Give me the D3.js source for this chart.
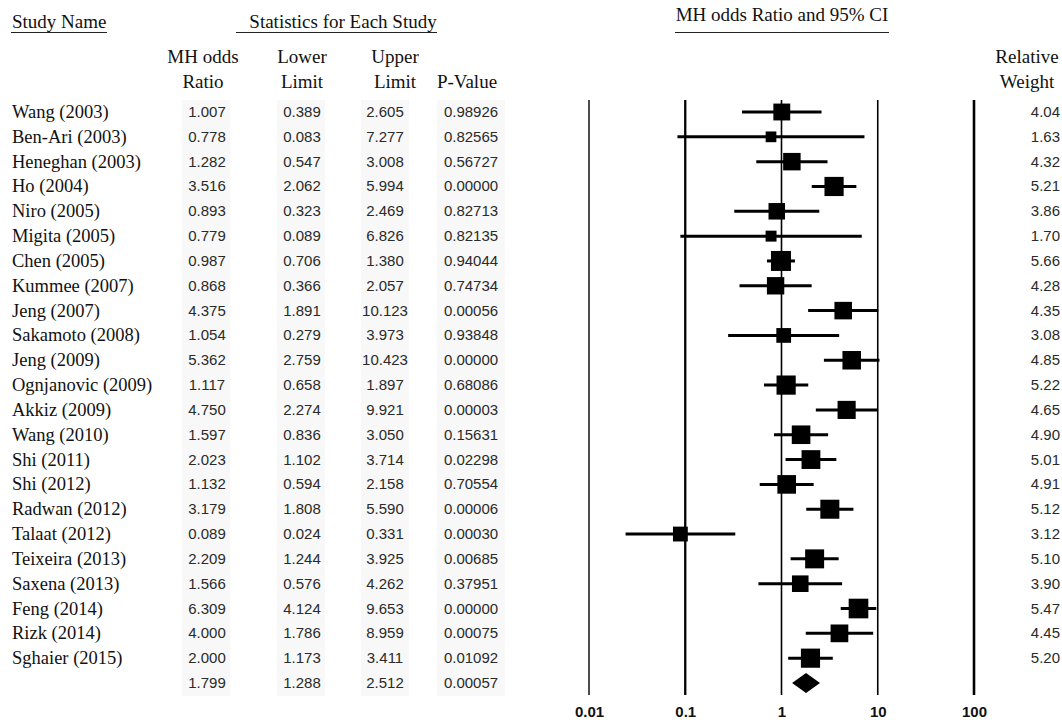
<!DOCTYPE html>
<html lang="en">
<head>
  <meta charset="UTF-8">
  <title>MH odds ratio forest plot</title>
  <script src="https://cdn.jsdelivr.net/npm/d3@7"></script>
  <style>
    body { margin: 0; background: #fff; }
    .hdr { font: 19px "Liberation Serif", serif; fill: #111; }
    .name { font: 18.5px "Liberation Serif", serif; fill: #111; }
    .num { font: 15px "Liberation Sans", Arial, sans-serif; fill: #2a2a2a; }
    .tick text { font: bold 15px "Liberation Sans", Arial, sans-serif; fill: #111; }
  </style>
</head>
<body>
<svg width="1062" height="720"></svg>
<script>
// study data
var studies = ["Wang (2003)", "Ben-Ari (2003)", "Heneghan (2003)", "Ho (2004)", "Niro (2005)",
  "Migita (2005)", "Chen (2005)", "Kummee (2007)", "Jeng (2007)", "Sakamoto (2008)", "Jeng (2009)",
  "Ognjanovic (2009)", "Akkiz (2009)", "Wang (2010)", "Shi (2011)", "Shi (2012)", "Radwan (2012)",
  "Talaat (2012)", "Teixeira (2013)", "Saxena (2013)", "Feng (2014)", "Rizk (2014)", "Sghaier (2015)"];
var oddsRatio = [1.007, 0.778, 1.282, 3.516, 0.893, 0.779, 0.987, 0.868, 4.375, 1.054, 5.362,
  1.117, 4.750, 1.597, 2.023, 1.132, 3.179, 0.089, 2.209, 1.566, 6.309, 4.000, 2.000];
var lowerLimit = [0.389, 0.083, 0.547, 2.062, 0.323, 0.089, 0.706, 0.366, 1.891, 0.279, 2.759,
  0.658, 2.274, 0.836, 1.102, 0.594, 1.808, 0.024, 1.244, 0.576, 4.124, 1.786, 1.173];
var upperLimit = [2.605, 7.277, 3.008, 5.994, 2.469, 6.826, 1.380, 2.057, 10.123, 3.973, 10.423,
  1.897, 9.921, 3.050, 3.714, 2.158, 5.590, 0.331, 3.925, 4.262, 9.653, 8.959, 3.411];
var pValue = ["0.98926", "0.82565", "0.56727", "0.00000", "0.82713", "0.82135", "0.94044", "0.74734",
  "0.00056", "0.93848", "0.00000", "0.68086", "0.00003", "0.15631", "0.02298", "0.70554", "0.00006",
  "0.00030", "0.00685", "0.37951", "0.00000", "0.00075", "0.01092"];
var relWeight = [4.04, 1.63, 4.32, 5.21, 3.86, 1.70, 5.66, 4.28, 4.35, 3.08, 4.85, 5.22, 4.65,
  4.90, 5.01, 4.91, 5.12, 3.12, 5.10, 3.90, 5.47, 4.45, 5.20];

// pooled estimate
var summaryOR = 1.799, summaryLower = 1.288, summaryUpper = 2.512, summaryP = "0.00057";

var tickValues = [0.01, 0.1, 1, 10, 100];
var tickLabels = ["0.01", "0.1", "1", "10", "100"];
var tickWidths = [1.4, 2.3, 1.6, 1.6, 2.6];

var svg = d3.select("svg");

var rows = studies.map(function(d, i) { return i; }).concat([studies.length]);
var y = d3.scalePoint().domain(rows).range([112, 683]);
var x = d3.scaleLog().domain([0.01, 100]).range([589, 974]);
var boxSize = d3.scaleSqrt().domain([0, 1]).range([0, 8.4]);

// faint column backgrounds
var colBg = [[182, 48], [277, 48], [361, 48], [437, 68]];
svg.append("g").selectAll("rect").data(colBg).enter().append("rect")
    .attr("x", d => d[0]).attr("y", 100).attr("width", d => d[1]).attr("height", 596)
    .attr("fill", "#f8f8f8");

// headers
var hdr = svg.append("g").attr("class", "hdr");
hdr.append("text").attr("x", 12).attr("y", 28).text("Study Name");
hdr.append("line").attr("x1", 11).attr("x2", 107).attr("y1", 32.5).attr("y2", 32.5)
    .attr("stroke", "#222");
hdr.append("text").attr("x", 343).attr("y", 28).attr("text-anchor", "middle").text("Statistics for Each Study");
hdr.append("line").attr("x1", 236).attr("x2", 437).attr("y1", 32.5).attr("y2", 32.5)
    .attr("stroke", "#222");
hdr.append("text").attr("x", 782).attr("y", 21).attr("text-anchor", "middle").text("MH odds Ratio and 95% CI");
hdr.append("line").attr("x1", 675).attr("x2", 889).attr("y1", 32.5).attr("y2", 32.5)
    .attr("stroke", "#222");

var colHeads = [["MH odds", "Ratio", 203], ["Lower", "Limit", 302], ["Upper", "Limit", 395]];
colHeads.forEach(function(c) {
  hdr.append("text").attr("x", c[2]).attr("y", 63).attr("text-anchor", "middle").text(c[0]);
  hdr.append("text").attr("x", c[2]).attr("y", 88).attr("text-anchor", "middle").text(c[1]);
});
hdr.append("text").attr("x", 467).attr("y", 88).attr("text-anchor", "middle").text("P-Value");
hdr.append("text").attr("x", 1027).attr("y", 63).attr("text-anchor", "middle").text("Relative");
hdr.append("text").attr("x", 1027).attr("y", 88).attr("text-anchor", "middle").text("Weight");

// study names
svg.append("g").selectAll("text").data(studies).enter().append("text")
    .attr("class", "name")
    .attr("x", 12).attr("y", (d, i) => y(i) + 6)
    .text(d => d);

// numeric columns
var fmt = d3.format(".3f");
var tableRows = studies.map(function(d, i) {
  return [fmt(oddsRatio[i]), fmt(lowerLimit[i]), fmt(upperLimit[i]), pValue[i]];
});
tableRows.push([fmt(summaryOR), fmt(summaryLower), fmt(summaryUpper), summaryP]);
var colX = [207, 302, 385, 471];
var rowG = svg.append("g").selectAll("g").data(tableRows).enter().append("g")
    .attr("transform", (d, i) => "translate(0," + (y(i) + 5) + ")");
rowG.selectAll("text").data(d => d).enter().append("text")
    .attr("class", "num")
    .attr("x", (d, j) => colX[j])
    .attr("text-anchor", "middle")
    .text(d => d);

// weights
svg.append("g").selectAll("text").data(relWeight).enter().append("text")
    .attr("class", "num")
    .attr("x", 1060).attr("y", (d, i) => y(i) + 5)
    .attr("text-anchor", "end")
    .text(d => d.toFixed(2));

// reference lines
svg.append("g").selectAll("line").data(tickValues).enter().append("line")
    .attr("x1", d => x(d)).attr("x2", d => x(d))
    .attr("y1", 100).attr("y2", 695)
    .attr("stroke", "#000")
    .attr("stroke-width", (d, i) => tickWidths[i]);

// axis labels
var axis = svg.append("g").attr("transform", "translate(0,703)")
    .call(d3.axisBottom(x).tickValues(tickValues).tickSize(0)
      .tickFormat((d, i) => tickLabels[i]));
axis.select(".domain").remove();

// CI lines and boxes
var plot = svg.append("g");
plot.selectAll("line.ci").data(studies).enter().append("line")
    .attr("class", "ci")
    .attr("x1", (d, i) => x(lowerLimit[i])).attr("x2", (d, i) => x(upperLimit[i]))
    .attr("y1", (d, i) => y(i)).attr("y2", (d, i) => y(i))
    .attr("stroke", "#000").attr("stroke-width", 3);
plot.selectAll("rect").data(studies).enter().append("rect")
    .attr("x", (d, i) => x(oddsRatio[i]) - boxSize(relWeight[i]) / 2)
    .attr("y", (d, i) => y(i) - boxSize(relWeight[i]) / 2)
    .attr("width", (d, i) => boxSize(relWeight[i]))
    .attr("height", (d, i) => boxSize(relWeight[i]))
    .attr("fill", "#000");

// summary diamond
var yS = y(studies.length);
plot.append("path")
    .attr("d", "M" + x(summaryLower) + "," + yS + "L" + x(summaryOR) + "," + (yS - 10) +
      "L" + x(summaryUpper) + "," + yS + "L" + x(summaryOR) + "," + (yS + 10) + "Z")
    .attr("fill", "#000");
</script>
</body>
</html>
